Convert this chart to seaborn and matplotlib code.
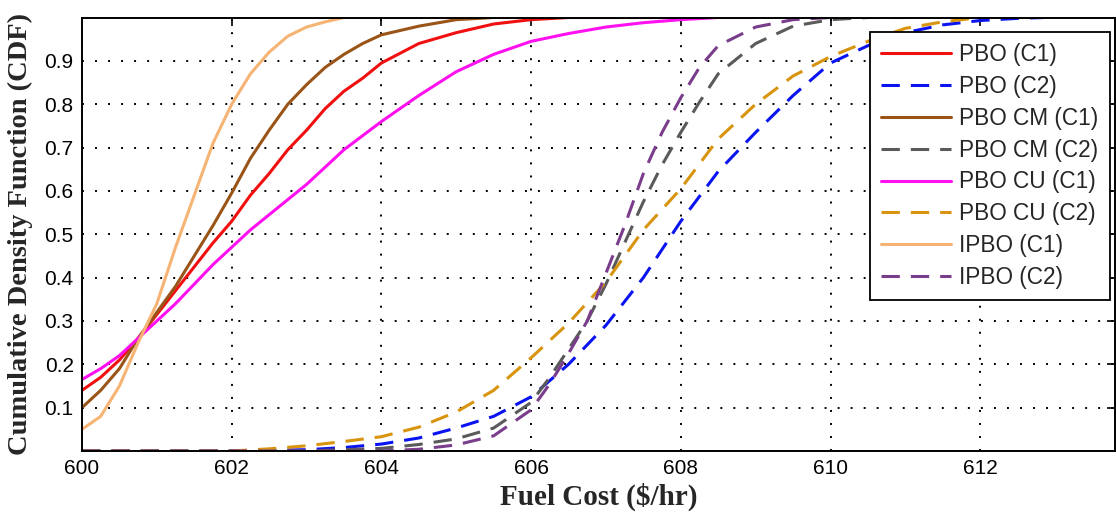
import numpy as np
import pandas as pd
import matplotlib
matplotlib.use("Agg")
import matplotlib.pyplot as plt
import seaborn as sns

# ---- data (Fuel cost vs CDF) ----
pbo_c1_x = [600, 600.25, 600.5, 600.75, 601, 601.25, 601.5, 601.75, 602, 602.25, 602.5, 602.75,
            603, 603.25, 603.5, 603.75, 604, 604.5, 605, 605.5, 606, 606.5, 608]
pbo_c1_y = [0.14, 0.17, 0.21, 0.26, 0.315, 0.37, 0.425, 0.48, 0.53, 0.59, 0.64, 0.695,
            0.74, 0.79, 0.83, 0.86, 0.895, 0.94, 0.965, 0.985, 0.995, 1.0, 1.0]

pbo_c2_x = [600, 601, 602, 603, 603.5, 604, 604.5, 605, 605.5, 606, 606.5, 607, 607.5, 608,
            608.5, 609, 609.5, 610, 610.5, 611, 611.5, 612, 612.5, 612.85]
pbo_c2_y = [0.0, 0.0, 0.0, 0.003, 0.008, 0.016, 0.03, 0.053, 0.08, 0.125, 0.20, 0.29, 0.40, 0.53,
            0.645, 0.735, 0.82, 0.895, 0.935, 0.965, 0.983, 0.993, 0.998, 1.0]

pbocm_c1_x = [600, 600.25, 600.5, 600.75, 601, 601.25, 601.5, 601.75, 602, 602.25, 602.5, 602.75,
              603, 603.25, 603.5, 603.75, 604, 604.5, 605, 605.5, 608]
pbocm_c1_y = [0.10, 0.14, 0.19, 0.26, 0.32, 0.38, 0.45, 0.52, 0.595, 0.675, 0.74, 0.80,
              0.845, 0.885, 0.915, 0.94, 0.96, 0.98, 0.995, 1.0, 1.0]

pbocm_c2_x = [600, 603, 604, 604.5, 605, 605.5, 606, 606.25, 606.5, 606.75, 607, 607.25, 607.5,
              607.75, 608, 608.25, 608.5, 609, 609.5, 610, 610.5, 611]
pbocm_c2_y = [0.0, 0.0, 0.006, 0.015, 0.028, 0.053, 0.112, 0.17, 0.235, 0.30, 0.385, 0.48, 0.575,
              0.66, 0.735, 0.805, 0.87, 0.94, 0.98, 0.995, 1.0, 1.0]

pbocu_c1_x = [600, 600.25, 600.5, 600.75, 601, 601.25, 601.5, 601.75, 602, 602.25, 602.5, 602.75,
              603, 603.5, 604, 604.5, 605, 605.5, 606, 606.5, 607, 607.5, 608, 608.5, 609]
pbocu_c1_y = [0.165, 0.19, 0.22, 0.26, 0.30, 0.34, 0.385, 0.43, 0.47, 0.51, 0.545, 0.58,
              0.615, 0.695, 0.76, 0.82, 0.875, 0.915, 0.945, 0.963, 0.978, 0.988, 0.995, 1.0, 1.0]

pbocu_c2_x = [600, 602, 602.5, 603, 603.5, 604, 604.5, 605, 605.5, 606, 606.5, 607, 607.5, 608,
              608.5, 609, 609.5, 610, 610.5, 611, 611.5, 612]
pbocu_c2_y = [0.0, 0.0, 0.005, 0.012, 0.022, 0.033, 0.055, 0.09, 0.14, 0.215, 0.295, 0.39, 0.51, 0.605,
              0.72, 0.80, 0.865, 0.91, 0.945, 0.975, 0.99, 1.0]

ipbo_c1_x = [600, 600.25, 600.5, 600.75, 601, 601.25, 601.5, 601.75, 602, 602.25, 602.5, 602.75,
             603, 603.25, 603.5, 606]
ipbo_c1_y = [0.05, 0.08, 0.15, 0.25, 0.34, 0.47, 0.59, 0.71, 0.80, 0.87, 0.92, 0.957,
             0.978, 0.99, 1.0, 1.0]

ipbo_c2_x = [600, 604, 604.5, 605, 605.5, 606, 606.25, 606.5, 606.75, 607, 607.25, 607.5, 607.75,
             608, 608.25, 608.5, 609, 609.5, 610]
ipbo_c2_y = [0.0, 0.0, 0.004, 0.014, 0.035, 0.095, 0.155, 0.225, 0.30, 0.41, 0.52, 0.64, 0.735,
             0.815, 0.885, 0.935, 0.978, 0.995, 1.0]

series_names = ["PBO (C1)", "PBO (C2)", "PBO CM (C1)", "PBO CM (C2)",
                "PBO CU (C1)", "PBO CU (C2)", "IPBO (C1)", "IPBO (C2)"]
series_x = [pbo_c1_x, pbo_c2_x, pbocm_c1_x, pbocm_c2_x, pbocu_c1_x, pbocu_c2_x, ipbo_c1_x, ipbo_c2_x]
series_y = [pbo_c1_y, pbo_c2_y, pbocm_c1_y, pbocm_c2_y, pbocu_c1_y, pbocu_c2_y, ipbo_c1_y, ipbo_c2_y]
colors = ["#F01010", "#0A14F0", "#9A5418", "#5A5A5A", "#FF10F0", "#D8940E", "#F6B474", "#7A3D8C"]
dashed = [False, True, False, True, False, True, False, True]

x_ticks = [600, 602, 604, 606, 608, 610, 612]
y_ticks = [0.1, 0.2, 0.3, 0.4, 0.5, 0.6, 0.7, 0.8, 0.9]

# ---- figure ----
sns.set_style("white")
plt.rcParams["font.family"] = ["Liberation Sans", "DejaVu Sans"]

fig = plt.figure(figsize=(11.16, 5.18), dpi=100)
ax = fig.add_axes([82 / 1116, (518 - 451) / 518, (1115 - 82) / 1116, (451 - 17.5) / 518])

for name, xs, ys, col, dsh in zip(series_names, series_x, series_y, colors, dashed):
    df = pd.DataFrame({"x": xs, "y": ys})
    sns.lineplot(data=df, x="x", y="y", ax=ax, color=col, linewidth=2.2, label=name, legend=False)
    line = ax.get_lines()[-1]
    if dsh:
        line.set_dashes((6, 3.6))

ax.set_xlim(600, 600 + (1115 - 82) / 74.85)
ax.set_ylim(0, 1)
ax.set_xticks(x_ticks)
ax.set_xticklabels([str(t) for t in x_ticks])
ax.set_yticks(y_ticks)
ax.set_yticklabels([f"{t:.1f}" for t in y_ticks])
ax.tick_params(direction="in", length=6, width=1.2, labelsize=15, colors="black",
               top=True, right=True, pad=6)
ax.tick_params(axis="y", pad=6)
ax.grid(True, color="black", linestyle=(0, (1, 5.7)), linewidth=1.4)
for sp in ax.spines.values():
    sp.set_color("black")
    sp.set_linewidth(1.4)
    sp.set_visible(True)

ax.set_xlabel(r"Fuel Cost (\$/hr)", fontfamily="Liberation Serif", fontweight="bold",
              fontsize=21, labelpad=3)
ax.set_ylabel("Cumulative Density Function (CDF)", fontfamily="Liberation Serif",
              fontweight="bold", fontsize=20.5, labelpad=8)

handles = ax.get_lines()[:len(series_names)]
leg = ax.legend(handles, series_names, loc="upper right", bbox_to_anchor=(0.995, 0.967),
                borderaxespad=0, fontsize=16.3, handlelength=3.1, handletextpad=0.35,
                labelspacing=0.39, borderpad=0.5, frameon=True, fancybox=False,
                framealpha=1, edgecolor="black")
leg.get_frame().set_linewidth(1.3)

fig.savefig("out.png", dpi=100)
